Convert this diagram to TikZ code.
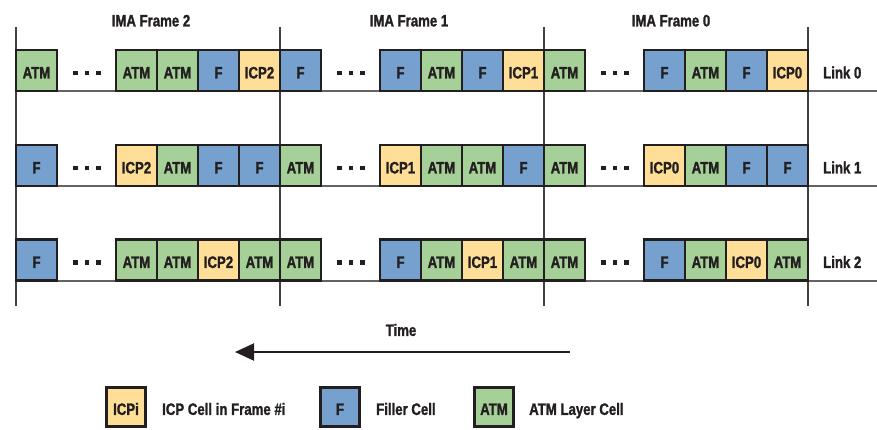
\documentclass[tikz,border=0pt]{standalone}
\usepackage{fontspec}
\newfontfamily\figfont{Liberation Sans}[FakeStretch=0.8,UprightFont={* Bold},FakeBold=1.4]
\usetikzlibrary{arrows.meta}
\definecolor{atmgreen}{RGB}{165,208,152}
\definecolor{fillblue}{RGB}{118,160,206}
\definecolor{icpyellow}{RGB}{255,222,152}
\definecolor{ink}{RGB}{35,31,32}
\newcommand{\dotsq}{\rule{4.5pt}{4.5pt}\hspace{7pt}\rule{4.5pt}{4.5pt}\hspace{7pt}\rule{4.5pt}{4.5pt}}
\begin{document}
\begin{tikzpicture}[x=1pt,y=-1pt,
  font=\figfont\fontsize{16.5}{19}\selectfont,
  every node/.style={text=ink},
  txt/.style={inner sep=0pt,text height=15.8pt,text depth=0pt},
  cell/.style={txt,draw=ink,line width=2.8pt,minimum size=41pt},
  atm/.style={cell,fill=atmgreen},
  fil/.style={cell,fill=fillblue},
  icp/.style={cell,fill=icpyellow},
  legbox/.style={txt,draw=ink,line width=2.8pt,minimum size=39pt},
  dotsnode/.style={inner sep=0pt,text=ink},
  frameline/.style={draw=ink!85,line width=2.2pt},
  baseline/.style={draw=ink!70,line width=2pt}]
\useasboundingbox (0,0) rectangle (877,429);

% frame titles
\node[txt] (t2) at (151,18.5) {IMA Frame 2};
\node[txt] (t1) at (409,18.5) {IMA Frame 1};
\node[txt] (t0) at (671,18.5) {IMA Frame 0};

% baselines of links
\foreach \r/\yb in {0/91,1/186,2/280.5} {
  \coordinate (hl\r) at (16,\yb);
  \coordinate (hr\r) at (877,\yb);
  \draw[baseline] (hl\r) -- (hr\r);
}

% frame boundaries
\foreach \k/\x in {0/16,1/280,2/544,3/808} {
  \coordinate (vt\k) at (\x,27);
  \coordinate (vb\k) at (\x,306);
  \draw[frameline] (vt\k) -- (vb\k);
}

% cells
\foreach \r/\yc/\cells in {
 0/70.5/{atm/ATM,atm/ATM,atm/ATM,fil/F,icp/ICP2,fil/F,fil/F,atm/ATM,fil/F,icp/ICP1,atm/ATM,fil/F,atm/ATM,fil/F,icp/ICP0},
 1/165.5/{fil/F,icp/ICP2,atm/ATM,fil/F,fil/F,atm/ATM,icp/ICP1,atm/ATM,atm/ATM,fil/F,atm/ATM,icp/ICP0,atm/ATM,fil/F,fil/F},
 2/260/{fil/F,atm/ATM,atm/ATM,icp/ICP2,atm/ATM,atm/ATM,fil/F,atm/ATM,icp/ICP1,atm/ATM,atm/ATM,fil/F,atm/ATM,icp/ICP0,atm/ATM}}
{
  \foreach \s/\t [count=\i from 0] in \cells {
    \pgfmathtruncatemacro\j{floor(\i/5)}
    \pgfmathtruncatemacro\p{mod(\i,5)}
    \pgfmathsetmacro\xc{16+264*\j+(\p==0 ? 20.5 : 79.5+41*\p)}
    \node[\s] (c\r-\i) at (\xc,\yc) {\t};
  }
  \foreach \j in {0,1,2} {
    \node[dotsnode] (d\r-\j) at (16+264*\j+71,\yc+2.5) {\dotsq};
  }
}

% link labels
\node[txt,anchor=west] (l0) at (823,70.5) {Link 0};
\node[txt,anchor=west] (l1) at (823,165.5) {Link 1};
\node[txt,anchor=west] (l2) at (823,260) {Link 2};

% time arrow
\node[txt] (time) at (401,328) {Time};
\coordinate (ts) at (570,352);
\coordinate (te) at (235,352);
\draw[draw=ink,line width=2pt,-{Triangle[length=19pt,width=17pt]}] (ts) -- (te);

% legend
\node[legbox,fill=icpyellow] (k1) at (126,407) {ICPi};
\node[txt,anchor=west] (k1t) at (162,407) {ICP Cell in Frame \#i};
\node[legbox,fill=fillblue] (k2) at (340,407) {F};
\node[txt,anchor=west] (k2t) at (376,407) {Filler Cell};
\node[legbox,fill=atmgreen] (k3) at (494,407) {ATM};
\node[txt,anchor=west] (k3t) at (529,407) {ATM Layer Cell};
\end{tikzpicture}
\end{document}
